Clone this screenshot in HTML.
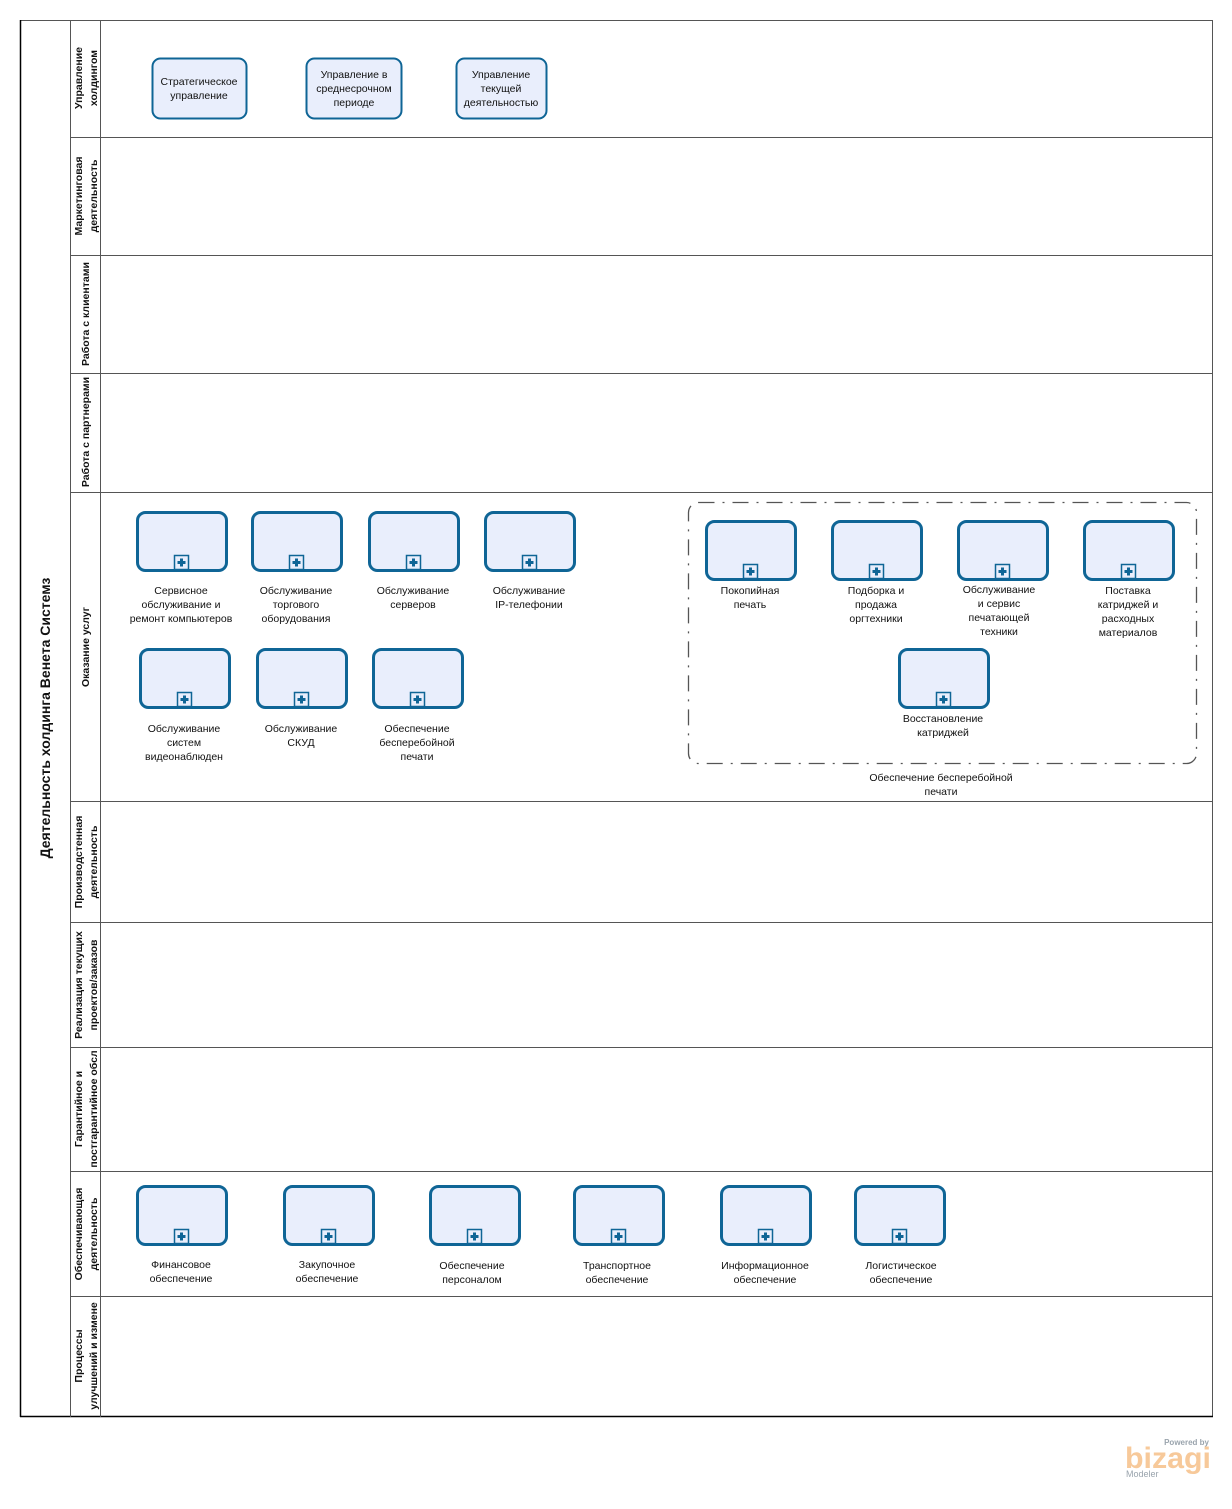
<!DOCTYPE html>
<html><head><meta charset="utf-8"><style>
html,body{margin:0;padding:0;background:#fff}
svg{display:block}
text{font-family:"Liberation Sans","DejaVu Sans",sans-serif;fill:#111}
.t{font-size:10.5px;text-anchor:middle}
.l{font-size:10.5px;font-weight:bold;text-anchor:middle}
</style></head><body>
<svg width="1232" height="1509" viewBox="0 0 1232 1509" xmlns="http://www.w3.org/2000/svg">
<defs>
<g id="task">
<rect x="1.5" y="1.5" width="89" height="58" rx="8" fill="#e9eefc" stroke="#0f6596" stroke-width="3"/>
<rect x="38.5" y="44.5" width="14" height="14" fill="#e9eefc" stroke="#0f6596" stroke-width="1.5"/>
<path d="M45.5 47.5v8M41.5 51.5h8" stroke="#0f6596" stroke-width="3"/>
</g>
</defs>
<rect x="20.5" y="20.5" width="1192" height="1396" fill="#fff" stroke="#555" stroke-width="1"/>
<line x1="20.5" y1="20" x2="20.5" y2="1417" stroke="#000" stroke-width="1.5"/>
<line x1="20" y1="1416.5" x2="1213" y2="1416.5" stroke="#000" stroke-width="1.5"/>
<line x1="70.5" y1="20" x2="70.5" y2="1417" stroke="#555"/>
<line x1="100.5" y1="20" x2="100.5" y2="1417" stroke="#555"/>
<g stroke="#555">
<line x1="70" y1="137.5" x2="1213" y2="137.5"/>
<line x1="70" y1="255.5" x2="1213" y2="255.5"/>
<line x1="70" y1="373.5" x2="1213" y2="373.5"/>
<line x1="70" y1="492.5" x2="1213" y2="492.5"/>
<line x1="70" y1="801.5" x2="1213" y2="801.5"/>
<line x1="70" y1="922.5" x2="1213" y2="922.5"/>
<line x1="70" y1="1047.5" x2="1213" y2="1047.5"/>
<line x1="70" y1="1171.5" x2="1213" y2="1171.5"/>
<line x1="70" y1="1296.5" x2="1213" y2="1296.5"/>
</g>
<text class="l" style="font-size:14px" transform="translate(50,718) rotate(-90)">Деятельность холдинга Венета Системз</text>
<g>
<text class="l" transform="translate(82,78) rotate(-90)">Управление</text>
<text class="l" transform="translate(97,78) rotate(-90)">холдингом</text>
<text class="l" transform="translate(82,196) rotate(-90)">Маркетинговая</text>
<text class="l" transform="translate(97,196) rotate(-90)">деятельность</text>
<text class="l" transform="translate(89,314) rotate(-90)">Работа с клиентами</text>
<text class="l" transform="translate(89,432) rotate(-90)">Работа с партнерами</text>
<text class="l" transform="translate(89,647) rotate(-90)">Оказание услуг</text>
<text class="l" transform="translate(82,862) rotate(-90)">Производстенная</text>
<text class="l" transform="translate(97,862) rotate(-90)">деятельность</text>
<text class="l" transform="translate(82,985) rotate(-90)">Реализация текущих</text>
<text class="l" transform="translate(97,985) rotate(-90)">проектов/заказов</text>
<text class="l" transform="translate(82,1109) rotate(-90)">Гарантийное и</text>
<text class="l" transform="translate(97,1109) rotate(-90)">постгарантийное обсл</text>
<text class="l" transform="translate(82,1234) rotate(-90)">Обеспечивающая</text>
<text class="l" transform="translate(97,1234) rotate(-90)">деятельность</text>
<text class="l" transform="translate(82,1356) rotate(-90)">Процессы</text>
<text class="l" transform="translate(97,1356) rotate(-90)">улучшений и измене</text>
</g>
<g fill="#e9eefc" stroke="#0f6596" stroke-width="2">
<rect x="152.5" y="58.5" width="94" height="60" rx="8"/>
<rect x="306.5" y="58.5" width="95" height="60" rx="8"/>
<rect x="456.5" y="58.5" width="90" height="60" rx="8"/>
</g>
<text class="t" x="199" y="85">Стратегическое</text><text class="t" x="199" y="99">управление</text>
<text class="t" x="354" y="78">Управление в</text><text class="t" x="354" y="92">среднесрочном</text><text class="t" x="354" y="106">периоде</text>
<text class="t" x="501" y="78">Управление</text><text class="t" x="501" y="92">текущей</text><text class="t" x="501" y="106">деятельностью</text>
<use href="#task" x="136" y="511"/>
<use href="#task" x="251" y="511"/>
<use href="#task" x="368" y="511"/>
<use href="#task" x="484" y="511"/>
<text class="t" x="181" y="594">Сервисное</text><text class="t" x="181" y="608">обслуживание и</text><text class="t" x="181" y="622">ремонт компьютеров</text>
<text class="t" x="296" y="594">Обслуживание</text><text class="t" x="296" y="608">торгового</text><text class="t" x="296" y="622">оборудования</text>
<text class="t" x="413" y="594">Обслуживание</text><text class="t" x="413" y="608">серверов</text>
<text class="t" x="529" y="594">Обслуживание</text><text class="t" x="529" y="608">IP-телефонии</text>
<use href="#task" x="139" y="648"/>
<use href="#task" x="256" y="648"/>
<use href="#task" x="372" y="648"/>
<text class="t" x="184" y="732">Обслуживание</text><text class="t" x="184" y="746">систем</text><text class="t" x="184" y="760">видеонаблюден</text>
<text class="t" x="301" y="732">Обслуживание</text><text class="t" x="301" y="746">СКУД</text>
<text class="t" x="417" y="732">Обеспечение</text><text class="t" x="417" y="746">бесперебойной</text><text class="t" x="417" y="760">печати</text>
<rect x="688.5" y="502.5" width="508" height="261" rx="10" fill="none" stroke="#555" stroke-width="1.3" stroke-dasharray="16,8,2,8"/>
<use href="#task" x="705" y="520"/>
<use href="#task" x="831" y="520"/>
<use href="#task" x="957" y="520"/>
<use href="#task" x="1083" y="520"/>
<use href="#task" x="898" y="648"/>
<text class="t" x="750" y="594">Покопийная</text><text class="t" x="750" y="608">печать</text>
<text class="t" x="876" y="594">Подборка и</text><text class="t" x="876" y="608">продажа</text><text class="t" x="876" y="622">оргтехники</text>
<text class="t" x="999" y="593">Обслуживание</text><text class="t" x="999" y="607">и сервис</text><text class="t" x="999" y="621">печатающей</text><text class="t" x="999" y="635">техники</text>
<text class="t" x="1128" y="594">Поставка</text><text class="t" x="1128" y="608">катриджей и</text><text class="t" x="1128" y="622">расходных</text><text class="t" x="1128" y="636">материалов</text>
<text class="t" x="943" y="722">Восстановление</text><text class="t" x="943" y="736">катриджей</text>
<text class="t" x="941" y="781">Обеспечение бесперебойной</text><text class="t" x="941" y="795">печати</text>
<use href="#task" x="136" y="1185"/>
<use href="#task" x="283" y="1185"/>
<use href="#task" x="429" y="1185"/>
<use href="#task" x="573" y="1185"/>
<use href="#task" x="720" y="1185"/>
<use href="#task" x="854" y="1185"/>
<text class="t" x="181" y="1268">Финансовое</text><text class="t" x="181" y="1282">обеспечение</text>
<text class="t" x="327" y="1268">Закупочное</text><text class="t" x="327" y="1282">обеспечение</text>
<text class="t" x="472" y="1269">Обеспечение</text><text class="t" x="472" y="1283">персоналом</text>
<text class="t" x="617" y="1269">Транспортное</text><text class="t" x="617" y="1283">обеспечение</text>
<text class="t" x="765" y="1269">Информационное</text><text class="t" x="765" y="1283">обеспечение</text>
<text class="t" x="901" y="1269">Логистическое</text><text class="t" x="901" y="1283">обеспечение</text>
<text x="1209" y="1445" font-size="8" font-weight="bold" text-anchor="end" style="fill:#9aa4ad">Powered by</text>
<text x="1125" y="1468" font-size="30" style="fill:#f7c99a;font-weight:bold" textLength="86" lengthAdjust="spacingAndGlyphs">bizagi</text>
<text x="1126" y="1477" font-size="9" style="fill:#9aa4ad">Modeler</text>
</svg>
</body></html>
